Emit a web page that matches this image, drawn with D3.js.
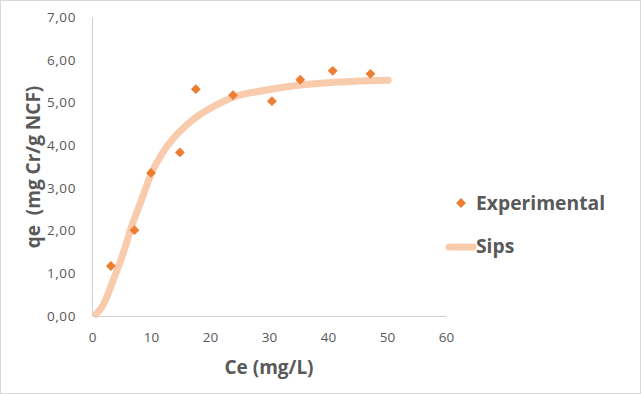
<!DOCTYPE html>
<html>
<head>
<meta charset="utf-8">
<script src="https://cdn.jsdelivr.net/npm/d3@7"></script>
<style>
  body { margin: 0; background: #fff; }
  svg { display: block; font-family: "Open Sans", Lato, sans-serif; }
</style>
</head>
<body>
<div id="chart"></div>
<script>
// experimental points (Ce mg/L, qe mg/g)
const expCe = [3.2, 7.2, 10.0, 14.9, 17.6, 23.9, 30.5, 35.3, 40.8, 47.2];
const expQe = [1.17, 2.01, 3.35, 3.83, 5.31, 5.17, 5.03, 5.53, 5.74, 5.67];

// Sips fitted curve
const sipsCe = [0.7, 1.9, 3.6, 5.3, 6.7, 8.4, 10.0, 12.3, 14.6, 17.4, 20.8, 23.9, 29.6, 35.3, 40.9, 46.6, 50.2];
const sipsQe = [0.04, 0.26, 0.84, 1.47, 2.09, 2.72, 3.32, 3.89, 4.28, 4.63, 4.92, 5.12, 5.29, 5.41, 5.47, 5.51, 5.52];

const xTicks = [0, 10, 20, 30, 40, 50, 60];
const yTicks = [0, 1, 2, 3, 4, 5, 6, 7];

const width = 641;
const height = 394;
const margin = { left: 92, top: 17, right: 195, bottom: 78 };

const svg = d3.select("#chart")
  .append("svg")
  .attr("width", width)
  .attr("height", height);

svg.append("rect")
  .attr("x", 0.5).attr("y", 0.5)
  .attr("width", width - 1).attr("height", height - 1)
  .attr("fill", "#fff")
  .attr("stroke", "#d9d9d9");

const x = d3.scaleLinear().domain([0, 60]).range([margin.left, width - margin.right]);
const y = d3.scaleLinear().domain([0, 7]).range([height - margin.bottom, margin.top]);

const fmt = d => d.toFixed(2).replace(".", ",");

// x axis
const xAxis = svg.append("g")
  .attr("transform", `translate(0,${y(0)})`)
  .call(d3.axisBottom(x).tickValues(xTicks).tickSize(0).tickPadding(16));
xAxis.select(".domain").attr("stroke", "#d0d0d0");
xAxis.selectAll("text").attr("fill", "#595959").attr("font-size", 13.5)
  .attr("font-family", "'Open Sans', sans-serif");

// y axis
const yAxis = svg.append("g")
  .attr("transform", `translate(${x(0)},0)`)
  .call(d3.axisLeft(y).tickValues(yTicks).tickFormat(fmt).tickSize(0).tickPadding(16));
yAxis.select(".domain").attr("stroke", "#d0d0d0");
yAxis.selectAll("text").attr("fill", "#595959").attr("font-size", 13.5)
  .attr("font-family", "'Open Sans', sans-serif")
  .attr("letter-spacing", 0.6);

// axis titles
svg.append("text")
  .attr("x", 269).attr("y", 374)
  .attr("text-anchor", "middle")
  .attr("font-size", 19).attr("font-weight", "bold")
  .attr("fill", "#595959")
  .text("Ce (mg/L)");

svg.append("text")
  .attr("transform", "translate(40,167) rotate(-90)")
  .attr("text-anchor", "middle")
  .attr("font-size", 19).attr("font-weight", "bold")
  .attr("fill", "#595959")
  .attr("xml:space", "preserve")
  .style("white-space", "pre")
  .text("qe  (mg Cr/g NCF)");

// Sips curve
const sips = sipsCe.map((c, i) => [c, sipsQe[i]]);
svg.append("path")
  .datum(sips)
  .attr("fill", "none")
  .attr("stroke", "#f8cbad")
  .attr("stroke-width", 7)
  .attr("stroke-linecap", "round")
  .attr("d", d3.line().x(d => x(d[0])).y(d => y(d[1])).curve(d3.curveMonotoneX));

// experimental markers
const diamond = d3.symbol().type(d3.symbolDiamond2).size(62);
svg.selectAll("path.pt")
  .data(expCe.map((c, i) => [c, expQe[i]]))
  .join("path")
  .attr("class", "pt")
  .attr("transform", d => `translate(${x(d[0])},${y(d[1])})`)
  .attr("d", diamond)
  .attr("fill", "#ed7d31");

// legend
const legend = svg.append("g");
legend.append("path")
  .attr("transform", "translate(461,203)")
  .attr("d", d3.symbol().type(d3.symbolDiamond2).size(62))
  .attr("fill", "#ed7d31");
legend.append("text")
  .attr("x", 476).attr("y", 210)
  .attr("font-size", 19.3).attr("font-weight", "bold")
  .attr("fill", "#595959")
  .text("Experimental");
legend.append("line")
  .attr("x1", 449).attr("x2", 473)
  .attr("y1", 247).attr("y2", 247)
  .attr("stroke", "#f8cbad")
  .attr("stroke-width", 7)
  .attr("stroke-linecap", "round");
legend.append("text")
  .attr("x", 476).attr("y", 253)
  .attr("font-size", 19.3).attr("font-weight", "bold")
  .attr("fill", "#595959")
  .text("Sips");
</script>
</body>
</html>
